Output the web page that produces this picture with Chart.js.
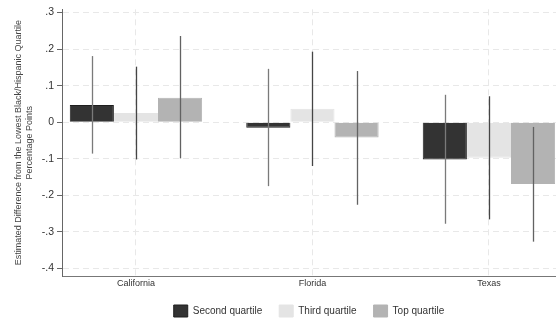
<!DOCTYPE html>
<html>
<head>
<meta charset="utf-8">
<script src="https://cdn.jsdelivr.net/npm/chart.js@4.4.1/dist/chart.umd.min.js"></script>
<style>
  html, body { margin: 0; padding: 0; background: #fff; }
  #wrap { width: 556px; height: 321px; position: relative; }
</style>
</head>
<body>
<div id="wrap"><canvas id="c"></canvas></div>
<script>
// States on the horizontal axis
const states = ['California', 'Florida', 'Texas'];
const quartiles = ['Second quartile', 'Third quartile', 'Top quartile'];

// Point estimates and 95% interval bounds, by quartile, in state order
const secondEst  = [0.047, -0.015, -0.102];
const secondLow  = [-0.086, -0.175, -0.278];
const secondHigh = [0.181, 0.146, 0.075];

const thirdEst   = [0.025, 0.037, -0.097];
const thirdLow   = [-0.102, -0.120, -0.266];
const thirdHigh  = [0.152, 0.193, 0.071];

const topEst     = [0.067, -0.042, -0.169];
const topLow     = [-0.099, -0.226, -0.327];
const topHigh    = [0.236, 0.140, -0.013];

const yTickValues = [0.3, 0.2, 0.1, 0, -0.1, -0.2, -0.3, -0.4];

const fills = ['#333333', '#e4e4e4', '#b3b3b3'];
const edges = ['#1e1e1e', '#e4e4e4', '#b3b3b3'];
const whiskerColors = ['#7a7a7a', '#454545', '#626262'];
const estimates = [secondEst, thirdEst, topEst];
const lows = [secondLow, thirdLow, topLow];
const highs = [secondHigh, thirdHigh, topHigh];

const datasets = quartiles.map((q, i) => ({
  label: q,
  data: states.map((s, j) => ({ x: j, y: estimates[i][j] })),
  backgroundColor: fills[i],
  borderColor: edges[i],
  borderWidth: 1,
  lows: lows[i],
  highs: highs[i],
  whiskerColor: whiskerColors[i]
}));

// Vertical interval lines drawn over each bar through the chart's scales
const intervalLines = {
  id: 'intervalLines',
  afterDatasetsDraw(chart) {
    const ctx = chart.ctx;
    const y = chart.scales.y;
    ctx.save();
    ctx.lineWidth = 1.3;
    chart.data.datasets.forEach((ds, i) => {
      const meta = chart.getDatasetMeta(i);
      ctx.strokeStyle = ds.whiskerColor;
      meta.data.forEach((bar, j) => {
        const x = Math.round(bar.x) + 0.5;
        ctx.beginPath();
        ctx.moveTo(x, y.getPixelForValue(ds.highs[j]));
        ctx.lineTo(x, y.getPixelForValue(ds.lows[j]));
        ctx.stroke();
      });
    });
    ctx.restore();
  }
};

function fmtTick(v) {
  if (Math.abs(v) < 1e-9) return '0';
  return v.toFixed(1).replace('0.', '.');
}

new Chart(document.getElementById('c'), {
  type: 'bar',
  data: { datasets },
  plugins: [intervalLines],
  options: {
    responsive: true,
    maintainAspectRatio: false,
    animation: false,
    layout: { padding: { top: 0, right: 0, bottom: 0, left: 0 } },
    datasets: { bar: { categoryPercentage: 0.75, barPercentage: 1.0 } },
    scales: {
      x: {
        type: 'linear',
        offset: false,
        min: -0.419,
        max: 2.38,
        afterBuildTicks: (axis) => { axis.ticks = [0, 1, 2].map(v => ({ value: v })); },
        afterFit: (scale) => { scale.height = 12; },
        ticks: {
          callback: (v) => states[v],
          font: { family: 'Liberation Sans', size: 9 },
          color: '#333333',
          padding: 2,
          maxRotation: 0,
          autoSkip: false
        },
        grid: { offset: false, color: '#e8e8e8', lineWidth: 1, drawTicks: false, tickLength: 0 },
        border: { display: true, color: '#777777', width: 1, dash: [6, 4] }
      },
      y: {
        min: -0.421,
        max: 0.309,
        afterBuildTicks: (axis) => { axis.ticks = yTickValues.map(v => ({ value: v })); },
        afterFit: (scale) => { scale.width = 62; },
        ticks: {
          callback: (v) => fmtTick(v),
          font: { family: 'Liberation Sans', size: 10.5 },
          color: '#333333',
          padding: 3,
          autoSkip: false
        },
        grid: { color: '#e8e8e8', lineWidth: 1, tickLength: 5, tickColor: '#666666', tickBorderDash: [] },
        border: { display: true, color: '#666666', width: 1, dash: [6, 4] },
        title: {
          display: true,
          text: ['Estimated Difference from the Lowest Black/Hispanic Quartile', 'Percentage Points'],
          font: { family: 'Liberation Sans', size: 9, lineHeight: 1.2 },
          color: '#444444',
          padding: { top: 13, bottom: 0 }
        }
      }
    },
    plugins: {
      legend: {
        position: 'bottom',
        fullSize: false,
        maxHeight: 33,
        labels: {
          boxWidth: 14,
          boxHeight: 12,
          padding: 17,
          color: '#333333',
          font: { family: 'Liberation Sans', size: 10 }
        }
      },
      tooltip: { enabled: false }
    }
  }
});
</script>
</body>
</html>
